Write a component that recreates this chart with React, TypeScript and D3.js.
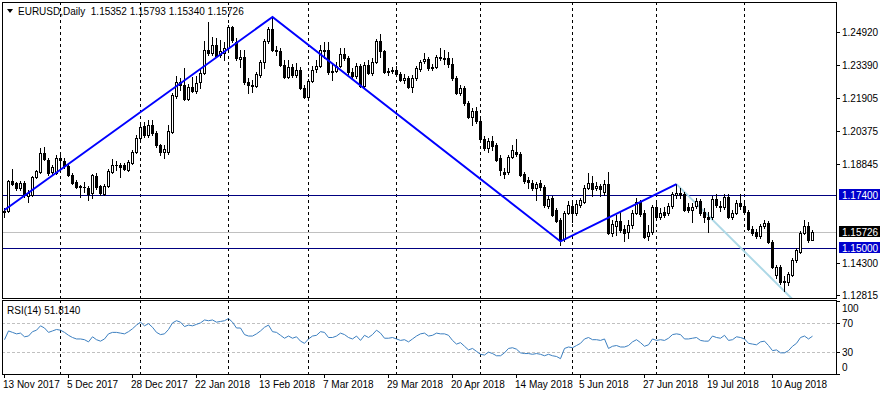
import React from 'react';
import * as d3 from 'd3';

const opens = [1.1665,1.1668,1.1806,1.1797,1.1774,1.1797,1.1738,1.1742,1.1825,1.1848,1.1935,1.1903,1.1848,1.1843,1.1912,1.1899,1.1876,1.1834,1.1802,1.1783,1.1779,1.1774,1.1751,1.1830,1.1783,1.1747,1.1783,1.1848,1.1880,1.1880,1.1880,1.1857,1.1889,1.1940,1.2004,1.2059,1.2018,1.2064,1.2027,1.1972,1.1940,1.1940,1.2032,1.2198,1.2262,1.2248,1.2184,1.2239,1.2222,1.2262,1.2303,1.2409,1.2395,1.2432,1.2385,1.2395,1.2418,1.2515,1.2446,1.2368,1.2377,1.2262,1.2248,1.2244,1.2294,1.2354,1.2451,1.2506,1.2409,1.2405,1.2340,1.2285,1.2331,1.2294,1.2317,1.2234,1.2193,1.2267,1.2322,1.2336,1.2409,1.2409,1.2308,1.2313,1.2336,1.2391,1.2372,1.2308,1.2290,1.2336,1.2244,1.2340,1.2303,1.2354,1.2451,1.2405,1.2308,1.2313,1.2317,1.2299,1.2271,1.2280,1.2239,1.2280,1.2322,1.2358,1.2368,1.2326,1.2331,1.2377,1.2372,1.2372,1.2345,1.2280,1.2211,1.2234,1.2165,1.2101,1.2128,1.2082,1.1999,1.1958,1.1990,1.1972,1.1912,1.1848,1.1848,1.1917,1.1940,1.1931,1.1839,1.1811,1.1797,1.1774,1.1797,1.1779,1.1692,1.1728,1.1673,1.1627,1.1540,1.1659,1.1692,1.1659,1.1696,1.1710,1.1774,1.1797,1.1774,1.1783,1.1756,1.1793,1.1567,1.1599,1.1622,1.1586,1.1572,1.1604,1.1659,1.1710,1.1659,1.1553,1.1572,1.1687,1.1641,1.1664,1.1659,1.1692,1.1742,1.1751,1.1747,1.1687,1.1673,1.1692,1.1714,1.1664,1.1641,1.1641,1.1724,1.1692,1.1687,1.1733,1.1641,1.1659,1.1705,1.1692,1.1664,1.1586,1.1572,1.1553,1.1599,1.1613,1.1526,1.1374,1.1411,1.1342,1.1342,1.1374,1.1443,1.1480,1.1567,1.1599,1.15352];
const highs = [1.1680,1.1811,1.1862,1.1802,1.1806,1.1806,1.1765,1.1830,1.1857,1.1958,1.1963,1.1912,1.1880,1.1926,1.1940,1.1912,1.1885,1.1843,1.1811,1.1788,1.1802,1.1783,1.1839,1.1843,1.1788,1.1793,1.1862,1.1908,1.1899,1.1889,1.1889,1.1903,1.1949,1.2018,1.2073,1.2078,1.2087,1.2087,1.2036,1.1977,1.1972,1.2064,1.2211,1.2290,1.2280,1.2326,1.2253,1.2285,1.2290,1.2326,1.2451,1.2538,1.2469,1.2464,1.2455,1.2446,1.2524,1.2520,1.2464,1.2409,1.2409,1.2280,1.2271,1.2308,1.2363,1.2460,1.2515,1.2561,1.2428,1.2418,1.2363,1.2363,1.2345,1.2349,1.2331,1.2248,1.2276,1.2336,1.2363,1.2432,1.2446,1.2446,1.2349,1.2354,1.2418,1.2418,1.2381,1.2326,1.2349,1.2345,1.2354,1.2363,1.2372,1.2460,1.2483,1.2409,1.2326,1.2331,1.2336,1.2308,1.2299,1.2290,1.2294,1.2336,1.2363,1.2395,1.2377,1.2345,1.2386,1.2418,1.2409,1.2400,1.2372,1.2290,1.2248,1.2244,1.2175,1.2142,1.2147,1.2096,1.2013,1.2004,1.2013,1.1981,1.1926,1.1866,1.1926,1.1972,1.1999,1.1940,1.1848,1.1825,1.1811,1.1802,1.1811,1.1788,1.1738,1.1738,1.1682,1.1636,1.1668,1.1714,1.1705,1.1719,1.1728,1.1788,1.1843,1.1830,1.1802,1.1793,1.1811,1.1848,1.1627,1.1650,1.1664,1.1604,1.1627,1.1673,1.1728,1.1719,1.1673,1.1604,1.1696,1.1719,1.1682,1.1687,1.1705,1.1756,1.1792,1.1774,1.1756,1.1705,1.1705,1.1728,1.1724,1.1682,1.1664,1.1738,1.1747,1.1714,1.1747,1.1747,1.1673,1.1719,1.1747,1.1705,1.1673,1.1599,1.1586,1.1608,1.1627,1.1622,1.1535,1.1420,1.1420,1.1370,1.1388,1.1452,1.1498,1.1577,1.1627,1.1618,1.15793];
const lows = [1.1640,1.1664,1.1788,1.1765,1.1765,1.1733,1.1710,1.1738,1.1820,1.1843,1.1903,1.1834,1.1834,1.1839,1.1857,1.1866,1.1830,1.1793,1.1774,1.1733,1.1756,1.1719,1.1728,1.1770,1.1742,1.1742,1.1779,1.1843,1.1857,1.1825,1.1857,1.1853,1.1885,1.1935,1.1995,1.2009,1.2009,1.2018,1.1963,1.1926,1.1912,1.1931,1.2027,1.2188,1.2225,1.2179,1.2179,1.2216,1.2210,1.2234,1.2298,1.2386,1.2386,1.2377,1.2377,1.2363,1.2409,1.2446,1.2363,1.2331,1.2253,1.2211,1.2216,1.2239,1.2285,1.2326,1.2441,1.2405,1.2386,1.2336,1.2280,1.2280,1.2285,1.2285,1.2230,1.2188,1.2179,1.2262,1.2308,1.2331,1.2372,1.2299,1.2271,1.2308,1.2331,1.2363,1.2299,1.2280,1.2280,1.2239,1.2239,1.2299,1.2294,1.2349,1.2377,1.2303,1.2294,1.2303,1.2290,1.2267,1.2257,1.2234,1.2216,1.2271,1.2313,1.2349,1.2317,1.2317,1.2326,1.2363,1.2345,1.2331,1.2271,1.2207,1.2202,1.2156,1.2096,1.2064,1.2073,1.1990,1.1949,1.1940,1.1949,1.1899,1.1834,1.1820,1.1839,1.1912,1.1922,1.1830,1.1797,1.1774,1.1765,1.1719,1.1765,1.1687,1.1682,1.1645,1.1618,1.1512,1.1530,1.1655,1.1618,1.1650,1.1687,1.1705,1.1770,1.1738,1.1765,1.1738,1.1742,1.1563,1.1553,1.1558,1.1572,1.1530,1.1544,1.1590,1.1655,1.1645,1.1544,1.1535,1.1563,1.1632,1.1632,1.1641,1.1650,1.1682,1.1728,1.1728,1.1668,1.1664,1.1618,1.1682,1.1650,1.1618,1.1572,1.1632,1.1687,1.1668,1.1678,1.1636,1.1632,1.1655,1.1678,1.1659,1.1581,1.1558,1.1544,1.1544,1.1590,1.1521,1.1406,1.1360,1.1333,1.1301,1.1328,1.1370,1.1434,1.1475,1.1563,1.1526,1.15340];
const closes = [1.1668,1.1806,1.1793,1.1774,1.1797,1.1742,1.1751,1.1825,1.1853,1.1935,1.1908,1.1843,1.1871,1.1912,1.1903,1.1876,1.1834,1.1797,1.1779,1.1779,1.1777,1.1747,1.1834,1.1779,1.1751,1.1783,1.1853,1.1880,1.1878,1.1871,1.1862,1.1894,1.1940,1.2004,1.2055,1.2018,1.2064,1.2027,1.1972,1.1940,1.1954,1.2036,1.2202,1.2262,1.2248,1.2184,1.2239,1.2221,1.2258,1.2303,1.2409,1.2395,1.2432,1.2382,1.2405,1.2418,1.2515,1.2455,1.2372,1.2377,1.2262,1.2248,1.2244,1.2299,1.2354,1.2451,1.2506,1.2409,1.2405,1.2340,1.2285,1.2331,1.2294,1.2317,1.2234,1.2193,1.2267,1.2317,1.2336,1.2409,1.2405,1.2308,1.2313,1.2336,1.2391,1.2372,1.2308,1.2290,1.2336,1.2244,1.2340,1.2303,1.2354,1.2451,1.2405,1.2308,1.2313,1.2317,1.2299,1.2271,1.2280,1.2239,1.2280,1.2326,1.2354,1.2368,1.2326,1.2331,1.2377,1.2372,1.2368,1.2345,1.2280,1.2211,1.2234,1.2165,1.2101,1.2128,1.2082,1.1999,1.1958,1.1990,1.1967,1.1903,1.1857,1.1839,1.1917,1.1949,1.1931,1.1834,1.1806,1.1802,1.1774,1.1793,1.1779,1.1696,1.1724,1.1650,1.1622,1.1535,1.1659,1.1696,1.1659,1.1700,1.1719,1.1774,1.1797,1.1770,1.1783,1.1770,1.1793,1.1567,1.1609,1.1622,1.1581,1.1567,1.1604,1.1659,1.1710,1.1655,1.1549,1.1572,1.1687,1.1641,1.1659,1.1650,1.1692,1.1747,1.1751,1.1742,1.1673,1.1673,1.1687,1.1714,1.1659,1.1641,1.1632,1.1724,1.1696,1.1687,1.1733,1.1641,1.1659,1.1705,1.1692,1.1664,1.1586,1.1567,1.1553,1.1599,1.1613,1.1526,1.1411,1.1411,1.1342,1.1346,1.1379,1.1443,1.1489,1.1567,1.1599,1.1535,1.15726];

const rsiValues = [47,59,57,55,56,51,52,58,60,66,63,57,59,61,60,57,53,50,48,48,47,44,51,47,45,48,55,57,57,56,55,58,62,67,71,66,69,64,57,54,55,61,70,73,71,65,67,66,68,70,74,73,74,71,72,73,76,71,63,63,54,52,52,55,59,64,67,58,57,53,49,52,49,51,45,42,48,52,53,58,57,50,50,52,56,54,50,48,52,46,53,50,54,60,56,49,49,50,48,46,47,44,48,52,55,56,52,53,56,55,55,53,46,41,43,38,33,35,31,27,26,30,28,25,25,29,35,36,34,29,28,28,27,28,27,25,27,25,24,21,35,37,36,39,42,48,50,47,47,46,48,35,38,39,37,37,39,44,47,43,38,40,48,46,47,46,49,54,55,54,48,48,49,50,46,45,45,52,50,49,53,46,47,51,50,48,42,41,40,44,45,39,32,33,29,29,32,38,42,50,52,48,51.814];

const dateTickBars = [0,16,32,48,64,80,96,112,128,144,160,176,192];
const dateTickLabels = ['13 Nov 2017','5 Dec 2017','28 Dec 2017','22 Jan 2018','13 Feb 2018','7 Mar 2018','29 Mar 2018','20 Apr 2018','14 May 2018','5 Jun 2018','27 Jun 2018','19 Jul 2018','10 Aug 2018'];
const monthStartBars = [14,34,56,76,98,119,142,163,185];

const priceTicks = [1.2492,1.2339,1.21905,1.20375,1.18845,1.143,1.12815];
const priceTickLabels = ['1.24920','1.23390','1.21905','1.20375','1.18845','1.14300','1.12815'];

const levelPrices = [1.174,1.15];
const levelLabels = ['1.17400','1.15000'];
const bidPrice = 1.15726;
const bidLabel = '1.15726';

const zigzagBars = [0,67,139,168];
const zigzagPrices = [1.1673,1.2561,1.1528,1.1792];
const rayBars = [168,197];
const rayPrices = [1.1792,1.1262];

const rsiLevels = [70,30];
const rsiAxisLabels = ['100','70','30','0'];
const rsiAxisValues = [100,70,30,0];

const titleText = 'EURUSD,Daily  1.15352 1.15793 1.15340 1.15726';
const rsiTitle = 'RSI(14) 51.8140';

const FONT = '"Liberation Sans", Arial, sans-serif';

export default function App() {
  const N = closes.length;
  const L = 2, R = 836, T = 2, MB = 298, RT = 300, RB = 374;
  const x = d3.scaleLinear().domain([0, N - 1]).range([4, 4 + 4 * (N - 1)]);
  const y = d3.scaleLinear().domain([1.12815, 1.2492]).range([295, 32]);
  const yR = d3.scaleLinear().domain([0, 100]).range([374, 301]);
  const r = Math.round;

  const candles = d3.range(N).map((i) => {
    const cx = r(x(i));
    const yo = r(y(opens[i]));
    const yc = r(y(closes[i]));
    const yh = r(y(highs[i]));
    const yl = r(y(lows[i]));
    const top = Math.min(yo, yc);
    const bot = Math.max(yo, yc);
    const bull = closes[i] >= opens[i];
    return (
      <g key={i}>
        <rect x={cx} y={yh} width={1} height={yl - yh + 1} fill="#000" />
        <rect x={cx - 1} y={top} width={3} height={bot - top + 1} fill="#000" />
        {bull && bot - top > 1 ? (
          <rect x={cx} y={top + 1} width={1} height={bot - top - 1} fill="#fff" />
        ) : null}
      </g>
    );
  });

  const zz = d3.line<number>().x((d) => x(zigzagBars[d]) + 0.5).y((d) => y(zigzagPrices[d]));
  const ray = d3.line<number>().x((d) => x(rayBars[d]) + 0.5).y((d) => y(rayPrices[d]));
  const rsiLine = d3.line<number>().x((d, i) => x(i) + 0.5).y((d) => yR(d));

  return (
    <svg
      width={880}
      height={395}
      style={{ position: 'fixed', left: 0, top: 0, background: '#fff' }}
      fontFamily={FONT}
      fontSize={10}
    >
      <defs>
        <clipPath id="mainClip">
          <rect x={L + 1} y={T + 1} width={R - L - 1} height={MB - T - 1} />
        </clipPath>
        <clipPath id="rsiClip">
          <rect x={L + 1} y={RT + 1} width={R - L - 1} height={RB - RT - 1} />
        </clipPath>
      </defs>
      <rect x={0} y={0} width={880} height={395} fill="#fff" />

      {/* month separators */}
      <g stroke="#000" strokeDasharray="3,3" shapeRendering="crispEdges">
        {monthStartBars.map((b) => (
          <g key={b}>
            <line x1={r(x(b)) + 0.5} x2={r(x(b)) + 0.5} y1={T} y2={MB} />
            <line x1={r(x(b)) + 0.5} x2={r(x(b)) + 0.5} y1={RT} y2={RB} />
          </g>
        ))}
      </g>

      {/* level lines */}
      <g shapeRendering="crispEdges">
        <line x1={L} x2={R} y1={r(y(bidPrice)) + 0.5} y2={r(y(bidPrice)) + 0.5} stroke="#c0c0c0" />
        {levelPrices.map((p) => (
          <line key={p} x1={L} x2={R} y1={r(y(p)) + 0.5} y2={r(y(p)) + 0.5} stroke="#000080" />
        ))}
      </g>

      <g clipPath="url(#mainClip)">
        <path d={ray([0, 1]) || ''} fill="none" stroke="#add8e6" strokeWidth={2} />
        <g shapeRendering="crispEdges">{candles}</g>
        <path d={zz([0, 1, 2, 3]) || ''} fill="none" stroke="#0000ff" strokeWidth={2} />
      </g>

      {/* RSI levels */}
      <g shapeRendering="crispEdges">
        {rsiLevels.map((v) => (
          <line key={v} x1={L} x2={R} y1={r(yR(v)) + 0.5} y2={r(yR(v)) + 0.5} stroke="#c0c0c0" strokeDasharray="3,2" />
        ))}
      </g>
      <g clipPath="url(#rsiClip)">
        <path d={rsiLine(rsiValues) || ''} fill="none" stroke="#3c7fc0" strokeWidth={1} />
      </g>

      {/* frames */}
      <g fill="none" stroke="#000" shapeRendering="crispEdges">
        <rect x={L + 0.5} y={T + 0.5} width={R - L} height={MB - T} />
        <rect x={L + 0.5} y={RT + 0.5} width={R - L} height={RB - RT} />
      </g>

      {/* title */}
      <path d="M7,9 L13,9 L10,13 Z" fill="#000" />
      <text x={18} y={15} fill="#000" style={{ whiteSpace: 'pre' }}>{titleText}</text>
      <text x={7} y={314} fill="#000">{rsiTitle}</text>

      {/* price axis */}
      <g shapeRendering="crispEdges">
        {priceTicks.map((p, i) => (
          <g key={p}>
            <line x1={R} x2={R + 4} y1={r(y(p)) + 0.5} y2={r(y(p)) + 0.5} stroke="#000" />
            <text x={842} y={r(y(p)) + 4} fill="#000">{priceTickLabels[i]}</text>
          </g>
        ))}
        {levelPrices.map((p, i) => (
          <g key={p}>
            <rect x={839} y={r(y(p)) - 6} width={41} height={11} fill="#0000cd" />
            <text x={842} y={r(y(p)) + 4} fill="#fff">{levelLabels[i]}</text>
          </g>
        ))}
        <rect x={839} y={r(y(bidPrice)) - 6} width={41} height={11} fill="#000" />
        <text x={842} y={r(y(bidPrice)) + 4} fill="#fff">{bidLabel}</text>
      </g>

      {/* RSI axis */}
      <g>
        {rsiAxisValues.map((v, i) => {
          const yy = Math.min(Math.max(yR(v), RT + 8), RB - 7);
          return (
            <g key={v}>
              <line x1={R} x2={R + 4} y1={r(yR(v)) + 0.5} y2={r(yR(v)) + 0.5} stroke="#000" shapeRendering="crispEdges" />
              <text x={842} y={yy + 4} fill="#000">{rsiAxisLabels[i]}</text>
            </g>
          );
        })}
      </g>

      {/* date axis */}
      <g>
        {dateTickBars.map((b, i) => (
          <g key={b}>
            <line x1={r(x(b)) + 0.5} x2={r(x(b)) + 0.5} y1={RB} y2={RB + 4} stroke="#000" shapeRendering="crispEdges" />
            <text x={r(x(b)) - 1} y={388} fill="#000">{dateTickLabels[i]}</text>
          </g>
        ))}
      </g>
    </svg>
  );
}
